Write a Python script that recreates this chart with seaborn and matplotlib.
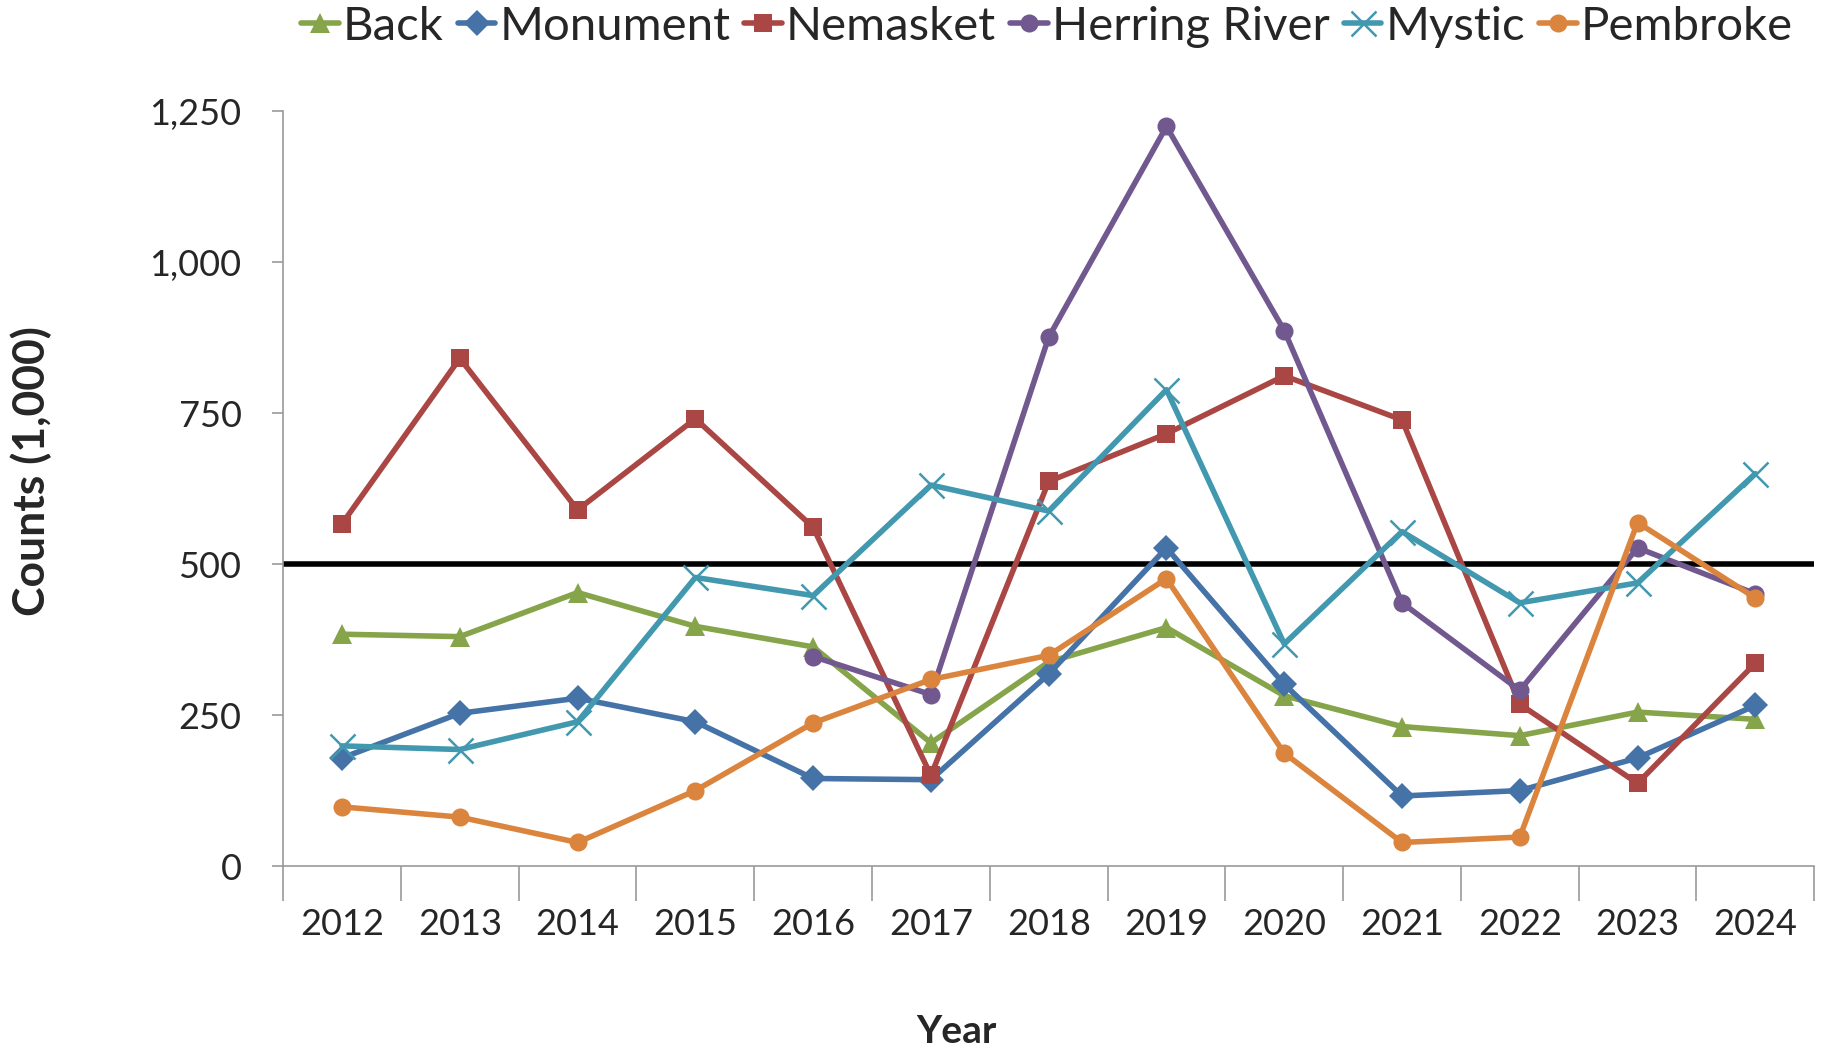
import pandas as pd
import numpy as np
import seaborn as sns
import matplotlib.pyplot as plt
from matplotlib.ticker import FixedLocator, FuncFormatter

years = ['2012', '2013', '2014', '2015', '2016', '2017', '2018',
         '2019', '2020', '2021', '2022', '2023', '2024']

back = [384, 380, 453, 397, 363, 204, 338, 395, 282, 231, 216, 255, 243]
monument = [179, 253, 278, 239, 145, 143, 318, 527, 301, 116, 125, 179, 266]
nemasket = [567, 841, 590, 741, 561, 150, 637, 716, 812, 739, 268, 137, 336]
herring = [np.nan, np.nan, np.nan, np.nan, 347, 284, 876, 1225, 887, 436, 291, 527, 451]
mystic = [199, 193, 239, 478, 448, 631, 588, 789, 368, 554, 436, 469, 650]
pembroke = [98, 81, 39, 125, 237, 309, 349, 476, 187, 39, 48, 569, 444]

series = ['Back', 'Monument', 'Nemasket', 'Herring River', 'Mystic', 'Pembroke']
colors = ['#86A44A', '#4572A7', '#AA4643', '#71588F', '#4198AF', '#DB843D']
markers = ['^', 'D', 's', 'o', 'x', 'o']

df = pd.DataFrame({'Year': years, 'Back': back, 'Monument': monument,
                   'Nemasket': nemasket, 'Herring River': herring,
                   'Mystic': mystic, 'Pembroke': pembroke})
df['pos'] = range(len(years))

sns.set_style('white')
plt.rcParams['font.family'] = ['Lato', 'DejaVu Sans']

fig = plt.figure(figsize=(18.27, 10.51), dpi=100)
ax = fig.add_axes([0.155, 0.176, 0.838, 0.718])

sizes = {'^': 14, 'D': 13, 's': 13, 'o': 13, 'x': 18}
for name, c, m in zip(series, colors, markers):
    sub = df[['pos', name]].dropna()
    sns.lineplot(data=sub, x='pos', y=name, color=c, marker=m,
                 markersize=sizes[m], markeredgewidth=1.8 if m == 'x' else 0,
                 markeredgecolor=c, linewidth=4, ax=ax, label=name)

ax.axhline(500, color='black', linewidth=4, zorder=1)
ax.get_legend().remove()

ax.set_xlim(-0.5, 12.5)
ax.set_ylim(0, 1250)
ax.set_xticks(range(len(years)))
ax.set_xticklabels(years)
ax.xaxis.set_minor_locator(FixedLocator(np.arange(-0.5, 13, 1)))
ax.tick_params(axis='x', which='major', length=0, pad=30, labelsize=26)
ax.tick_params(axis='x', which='minor', length=25, width=1.2, color='#999999',
               direction='out', bottom=True)
ax.set_yticks([0, 250, 500, 750, 1000, 1250])
ax.yaxis.set_major_formatter(FuncFormatter(lambda v, p: f'{int(v):,}'))
ax.tick_params(axis='y', length=8, width=1.2, color='#999999', pad=22,
               labelsize=26, left=True)

for s in ['top', 'right']:
    ax.spines[s].set_visible(False)
for s in ['left', 'bottom']:
    ax.spines[s].set_color('#999999')
    ax.spines[s].set_linewidth(1.2)

ax.set_xlabel('Year', fontsize=28, fontweight='bold')
ax.xaxis.set_label_coords(0.44, -0.196)
ax.set_ylabel('Counts (1,000)', fontsize=32, fontweight='bold')
ax.yaxis.set_label_coords(-0.151, 0.523)

handles = [plt.Line2D([], [], color=c, marker=m, linewidth=4,
                      markersize=sizes[m], markeredgecolor=c,
                      markeredgewidth=1.8 if m == 'x' else 0)
           for c, m in zip(colors, markers)]
fig.legend(handles, series, loc='upper center', bbox_to_anchor=(0.573, 1.035),
           ncol=6, frameon=False, fontsize=34, handlelength=0.8,
           handletextpad=0.08, columnspacing=0.3)

fig.savefig('out.png', dpi=100)
